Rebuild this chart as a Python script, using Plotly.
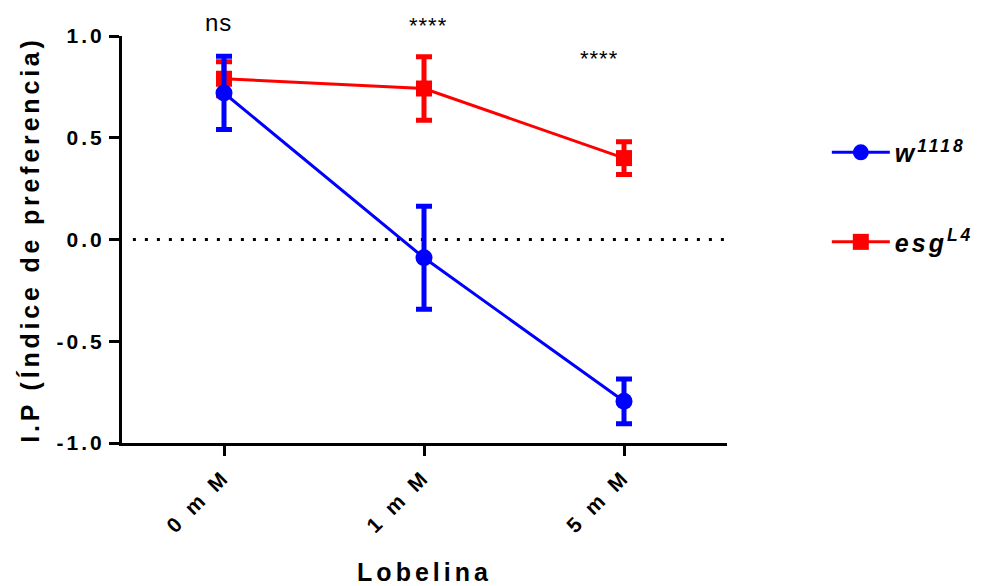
import plotly.graph_objects as go

categories = ["0 mM", "1 mM", "5 mM"]
tick_text = ["0 m M", "1 m M", "5 m M"]
x_pos = [0, 1, 2]

w_mean = [0.72, -0.09, -0.795]
w_err = [0.18, 0.253, 0.11]
esg_mean = [0.79, 0.742, 0.40]
esg_err = [0.083, 0.156, 0.08]

sig_labels = ["ns", "****", "****"]
sig_x = [-0.03, 1.02, 1.875]
sig_y_paper = [1.034, 1.027, 0.9435]

y_ticks = [-1.0, -0.5, 0.0, 0.5, 1.0]
y_tick_text = ["-1.0", "-0.5", "0.0", "0.5", "1.0"]

FONT = "Liberation Sans, Arial, sans-serif"
BLUE = "#0000FF"
RED = "#FF0000"

fig = go.Figure()

fig.add_trace(go.Scatter(
    x=x_pos, y=esg_mean, name="<b><i>esg<sup>L4</sup></i></b>",
    mode="lines+markers", legendgroup="esg", legendrank=2,
    line=dict(color=RED, width=3),
    marker=dict(symbol="square", size=16, color=RED),
    error_y=dict(type="data", array=esg_err, visible=True, color=RED, thickness=5, width=8),
    cliponaxis=False,
))
fig.add_trace(go.Scatter(
    x=x_pos, y=w_mean, name="<b><i>w<sup>1118</sup></i></b>",
    mode="lines+markers", legendgroup="w", legendrank=1,
    line=dict(color=BLUE, width=3),
    marker=dict(symbol="circle", size=17, color=BLUE),
    error_y=dict(type="data", array=w_err, visible=True, color=BLUE, thickness=5, width=8),
    cliponaxis=False,
))

fig.add_shape(type="line", xref="paper", yref="y", x0=0.018, x1=1, y0=0, y1=0,
              line=dict(color="black", width=3, dash="3px,9px"), layer="below")

for t, xx, yy in zip(sig_labels, sig_x, sig_y_paper):
    fig.add_annotation(x=xx, y=yy, xref="x", yref="paper", text=t, showarrow=False,
                       yanchor="middle", xanchor="center",
                       font=dict(family=FONT, size=24 if t == "ns" else 22, color="black"))

fig.update_layout(
    width=987, height=586,
    margin=dict(l=122, r=260, t=36, b=143, autoexpand=False),
    paper_bgcolor="white", plot_bgcolor="white",
    font=dict(family=FONT, color="black"),
    showlegend=True,
    legend=dict(x=1.165, y=0.77, xanchor="left", yanchor="top",
                font=dict(family=FONT, size=25, color="black"),
                tracegroupgap=54, traceorder="grouped", itemwidth=58,
                bgcolor="rgba(0,0,0,0)"),
    xaxis=dict(
        range=[-0.51, 2.515], tickmode="array", tickvals=x_pos, ticktext=tick_text,
        tickangle=-45, ticks="outside", ticklen=10, tickwidth=3, tickcolor="black",
        showline=True, linewidth=3, linecolor="black", showgrid=False, zeroline=False,
        tickfont=dict(family=FONT, size=21, color="black", weight="bold"),
        title=dict(text="<b>Lobelina</b>", font=dict(family=FONT, size=25), standoff=53),
    ),
    yaxis=dict(
        range=[-1.0, 1.0], tickmode="array", tickvals=y_ticks, ticktext=y_tick_text,
        ticks="outside", ticklen=10, tickwidth=3, tickcolor="black", ticklabelstandoff=0,
        showline=True, linewidth=3, linecolor="black", showgrid=False, zeroline=False,
        tickfont=dict(family=FONT, size=21, color="black", weight="bold"),
        title=dict(text="<b>I.P (Índice de preferencia)</b>", font=dict(family=FONT, size=25), standoff=22),
    ),
)

post = """
document.body.style.margin='0';
var gd = document.getElementById('{plot_id}');
function spacing(){
  gd.querySelectorAll('.ytitle').forEach(function(e){e.style.letterSpacing='3.8px';});
  gd.querySelectorAll('.xtitle').forEach(function(e){e.style.letterSpacing='4px';});
  gd.querySelectorAll('.ytick text').forEach(function(e){e.style.letterSpacing='3px';});
  gd.querySelectorAll('.xtick text').forEach(function(e){e.style.letterSpacing='4px';});
  gd.querySelectorAll('.legendtext').forEach(function(e){e.style.letterSpacing='3px';});
  gd.querySelectorAll('.annotation-text').forEach(function(e){e.style.letterSpacing='1px';});
  gd.querySelectorAll('.legend [clip-path]').forEach(function(e){e.removeAttribute('clip-path');});
}
spacing();
"""

fig.write_html("out.html", post_script=post, config={"displayModeBar": False})
